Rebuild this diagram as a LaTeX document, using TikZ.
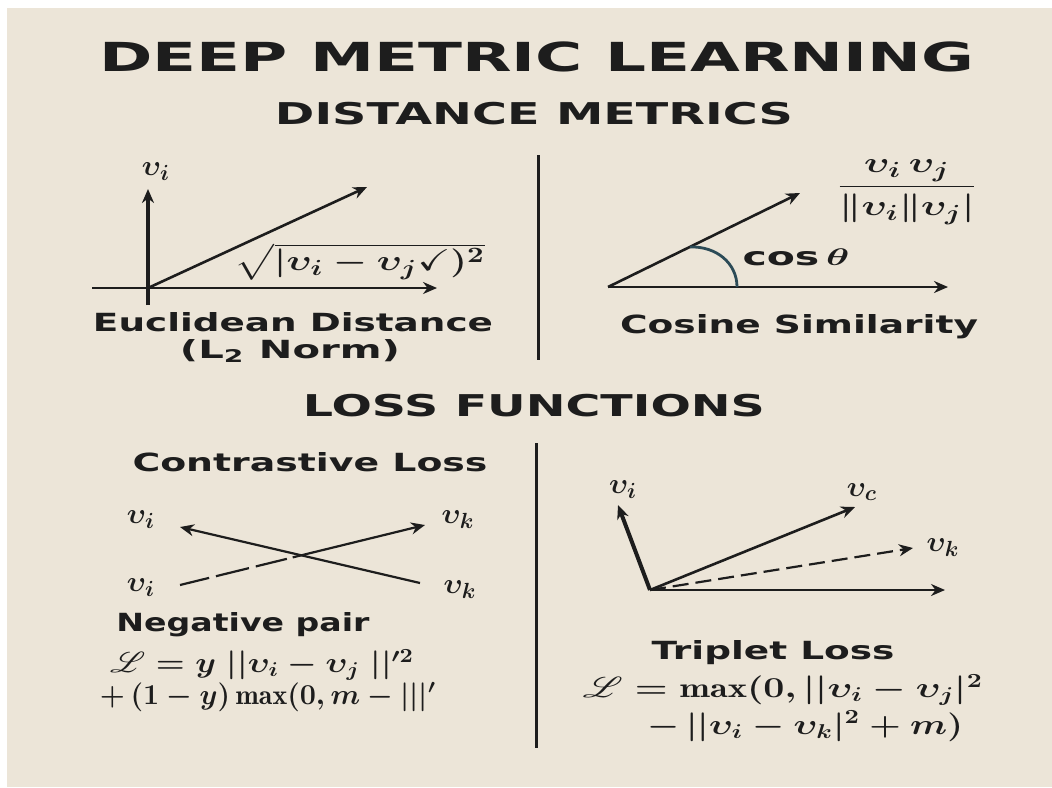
\documentclass[tikz,border=0pt]{standalone}
\usepackage{amsmath, amssymb}
\usepackage{mathrsfs}
\usepackage{graphicx}
\usepackage{xcolor}
\usepackage{fontspec}
\usepackage{tikz}
\usetikzlibrary{positioning, arrows.meta, calc}
\newfontfamily\labelfont{DejaVu Sans}
\definecolor{paper}{HTML}{ECE5D8}
\definecolor{ink}{HTML}{1D1D1D}
\definecolor{arcink}{HTML}{2C4B57}
\newcommand{\fitw}[2]{\resizebox{#1}{\height}{#2}}
\tikzset{
  headtxt/.style  = {text=ink, inner sep=0pt, font=\labelfont\bfseries},
  captxt/.style   = {text=ink, inner sep=0pt, font=\labelfont\bfseries\fontsize{12.5}{15}\selectfont},
  mathtxt/.style  = {text=ink, inner sep=0pt, font=\mathversion{bold}\fontsize{15}{18}\selectfont},
  eqtxt/.style    = {text=ink, inner sep=0pt, font=\mathversion{bold}\fontsize{14}{16}\selectfont},
  vec/.style      = {draw=ink, line width=1.3pt, -{Stealth[length=7pt, width=6pt]}},
  divider/.style  = {draw=ink, line width=1.5pt}
}

\begin{document}
\begin{tikzpicture}[x=0.5pt, y=-0.5pt]

    % ── Canvas ────────────────────────────────────────────────────────────
    \useasboundingbox (0,0) rectangle (1052,787);
    \fill[white] (0,0) rectangle (1052,787);
    \fill[paper] (7,8) rectangle (1052,787);

    % ── Headers ───────────────────────────────────────────────────────────
    \node[headtxt, font=\labelfont\bfseries\fontsize{20}{24}\selectfont] (title) at (537,57)
      {\fitw{437.5pt}{DEEP METRIC LEARNING}};
    \node[headtxt, font=\labelfont\bfseries\fontsize{15}{18}\selectfont] (hdrDist) at (534,114)
      {\fitw{259pt}{DISTANCE METRICS}};
    \node[headtxt, font=\labelfont\bfseries\fontsize{15}{18}\selectfont] (hdrLoss) at (534,406)
      {\fitw{231pt}{LOSS FUNCTIONS}};

    % ── Dividers ─────────────────────────────────────────────────────────
    \coordinate (divTopA) at (538,155);
    \coordinate (divTopB) at (538,360);
    \coordinate (divBotA) at (536,443);
    \coordinate (divBotB) at (536,748);
    \draw[divider] (divTopA) -- (divTopB);
    \draw[divider] (divBotA) -- (divBotB);

    % ════════════════════════════════════════════════════════════════════
    %  TOP LEFT: EUCLIDEAN
    % ════════════════════════════════════════════════════════════════════
    \coordinate (eO)     at (148,288);
    \coordinate (eYbot)  at (148,305);
    \coordinate (eYtip)  at (148,189);
    \coordinate (eXtail) at (92,288);
    \coordinate (eXtip)  at (437,288);
    \coordinate (eDtip)  at (367,187);

    \draw[vec, line width=1.6pt] (eYbot) -- (eYtip);
    \draw[vec, line width=1.1pt] (eXtail) -- (eXtip);
    \draw[vec] (eO) -- (eDtip);

    \node[mathtxt] (eVi) at (156,172) {$\upsilon_i$};
    \node[mathtxt] (eSqrt) at (360,262)
      {\fitw{125pt}{$\sqrt{|\upsilon_i-\upsilon_j\checkmark)^2}$}};

    \node[captxt] (euLbl)  at (293,322) {\fitw{200pt}{Euclidean Distance}};
    \node[captxt] (euNorm) at (290,351) {\fitw{110pt}{(L\textsubscript{2} Norm)}};

    % ════════════════════════════════════════════════════════════════════
    %  TOP RIGHT: COSINE
    % ════════════════════════════════════════════════════════════════════
    \coordinate (cO)    at (608,287);
    \coordinate (cXtip) at (948,287);
    \coordinate (cDtip) at (800,193);
    \coordinate (cArcA) at (690,247);
    \coordinate (cArcB) at (737,287);

    \draw[vec] (cO) -- (cXtip);
    \draw[vec] (cO) -- (cDtip);
    \draw[draw=arcink, line width=1.4pt] (cArcA) .. controls (716,246) and (737,263) .. (cArcB);

    \node[captxt] (cosTh) at (796,257) {\fitw{53.5pt}{cos\,$\boldsymbol{\theta}$}};
    \node[mathtxt] (cFrac) at (907,192)
      {\fitw{70.5pt}{$\dfrac{\upsilon_i\,\upsilon_j}{\|\upsilon_i\|\upsilon_j|}$}};

    \node[captxt] (cosLbl) at (799,327) {\fitw{179pt}{Cosine Similarity}};

    % ════════════════════════════════════════════════════════════════════
    %  BOTTOM LEFT: CONTRASTIVE
    % ════════════════════════════════════════════════════════════════════
    \node[captxt] (conLbl) at (310,462) {\fitw{177.5pt}{Contrastive Loss}};

    \coordinate (cnAtail) at (420,583);
    \coordinate (cnAtip)  at (180,527);
    \coordinate (cnBtail) at (180,585);
    \coordinate (cnBtip)  at (425,525);

    \draw[vec, line width=1.1pt] (cnAtail) -- (cnAtip);
    \draw[vec, line width=1.1pt,
          dash pattern=on 15pt off 3.5pt on 17pt off 3.5pt on 16pt off 3pt on 200pt]
      (cnBtail) -- (cnBtip);

    \node[mathtxt] (cnViTop) at (141,520) {$\upsilon_i$};
    \node[mathtxt] (cnVkTop) at (458,520) {$\upsilon_k$};
    \node[mathtxt] (cnViBot) at (141,588) {$\upsilon_i$};
    \node[mathtxt] (cnVkBot) at (460,590) {$\upsilon_k$};

    \node[captxt] (negLbl) at (243,625) {\fitw{126.5pt}{Negative pair}};

    \node[eqtxt] (conEqA) at (262,665)
      {\fitw{152pt}{$\mathscr{L} = y\;||\upsilon_i-\upsilon_j\;||^{\prime 2}$}};
    \node[eqtxt] (conEqB) at (268,697)
      {\fitw{168pt}{$+\,(1-y)\max(0,m-|||^{\prime}$}};

    % ════════════════════════════════════════════════════════════════════
    %  BOTTOM RIGHT: TRIPLET
    % ════════════════════════════════════════════════════════════════════
    \coordinate (tO)     at (650,590);
    \coordinate (tViTip) at (618,505);
    \coordinate (tVcTip) at (855,507);
    \coordinate (tVkTip) at (913,548);
    \coordinate (tXtip)  at (945,590);

    \draw[vec, line width=2pt] (tO) -- (tViTip);
    \draw[vec] (tO) -- (tVcTip);
    \draw[vec, line width=1.1pt, dash pattern=on 8pt off 3.5pt] (tO) -- (tVkTip);
    \draw[vec, line width=1.1pt] (tO) -- (tXtip);

    \node[mathtxt] (tVi) at (623,490) {$\upsilon_i$};
    \node[mathtxt] (tVc) at (862,492) {$\upsilon_c$};
    \node[mathtxt] (tVk) at (943,548) {$\upsilon_k$};

    \node[captxt] (tripLbl) at (773,653) {\fitw{121.5pt}{Triplet Loss}};
    \node[eqtxt] (tripEqA) at (783,690)
      {\fitw{200pt}{$\mathscr{L} = \max(0,||\upsilon_i-\upsilon_j|^2$}};
    \node[eqtxt] (tripEqB) at (805,726)
      {\fitw{158pt}{$-\,||\upsilon_i-\upsilon_k|^2+m)$}};

\end{tikzpicture}
\end{document}
